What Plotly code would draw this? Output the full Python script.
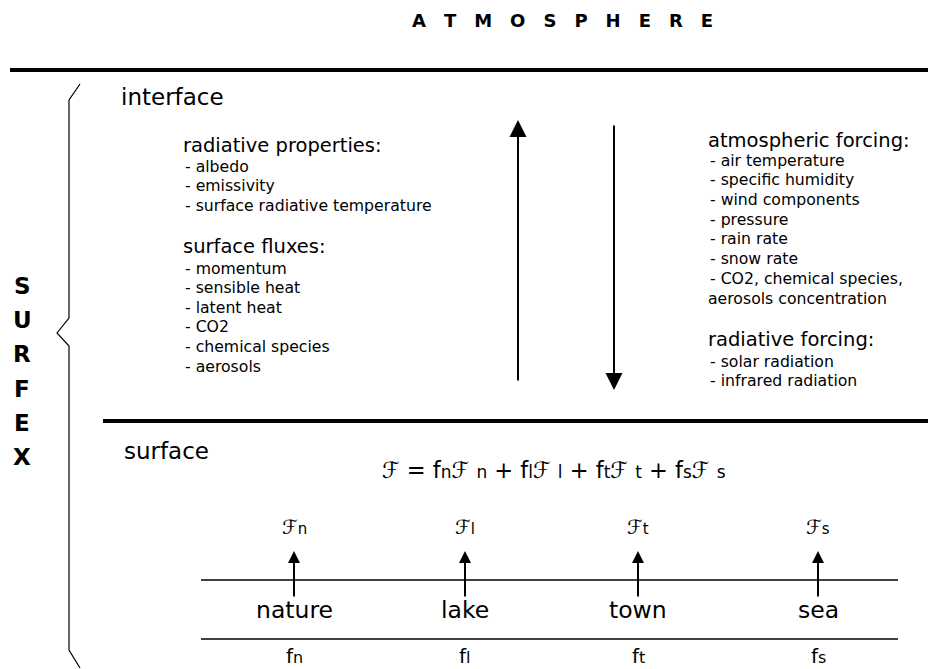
import plotly.graph_objects as go

# ---- content ----
title_text = "ATMOSPHERE"
side_text = "SURFEX"
interface_label = "interface"
surface_label = "surface"
rad_prop_header = "radiative properties:"
rad_prop_items = ["albedo", "emissivity", "surface radiative temperature"]
flux_header = "surface fluxes:"
flux_items = ["momentum", "sensible heat", "latent heat", "CO2", "chemical species", "aerosols"]
atm_header = "atmospheric forcing:"
atm_items = ["air temperature", "specific humidity", "wind components", "pressure",
             "rain rate", "snow rate", "CO2, chemical species,"]
atm_tail = "aerosols concentration"
radf_header = "radiative forcing:"
radf_items = ["solar radiation", "infrared radiation"]
tiles = ["nature", "lake", "town", "sea"]
tile_subs = ["n", "l", "t", "s"]

# ---- layout constants ----
W, H = 936, 669
OFF = 8  # page body margin offset
FONT = "DejaVu Sans"
tile_x = [294, 465, 638, 818]
F = "ℱ"
HEAD, ITEM = 19.5, 15.7

def small(s, px):
    return '<span style="font-size:%dpx">%s</span>' % (px, s)

fig = go.Figure()
ann = []
shapes = []

def txt(x, y, s, size, xanchor="left", bold=False, yanchor="middle"):
    ann.append(dict(x=x, y=y, xref="x", yref="y", text=("<b>%s</b>" % s) if bold else s,
                    showarrow=False, xanchor=xanchor, yanchor=yanchor,
                    font=dict(family=FONT, size=size, color="black")))

def arrow(x, y0, y1, width=2, size=1.4):
    ann.append(dict(x=x, y=y1, ax=x, ay=y0, xref="x", yref="y", axref="x", ayref="y",
                    text="", showarrow=True, arrowhead=2, arrowsize=size,
                    arrowwidth=width, arrowcolor="black", standoff=0, startstandoff=0))

def hline(x0, x1, y, w):
    shapes.append(dict(type="line", xref="x", yref="y", x0=x0, x1=x1, y0=y, y1=y,
                       line=dict(color="black", width=w)))

# title (letter spaced)
txt(562, 20, "\u2003".join(title_text), 18, xanchor="center", bold=True)
# main lines
hline(10, W + OFF, 70, 4)
hline(103, W + OFF, 421, 4)
# brace
shapes.append(dict(type="path", xref="x", yref="y",
                   path="M 80 84 L 69 100 L 69 318 L 57 333 L 69 346 L 69 650 L 80 668",
                   line=dict(color="black", width=1.2)))
# SURFEX
for i, ch in enumerate(side_text):
    txt(22, 286 + i * 34.2, ch, 23, xanchor="center", bold=True)

txt(119, 97, interface_label, 23)
txt(122, 451, surface_label, 23)

# left block
txt(181, 145, rad_prop_header, HEAD)
for i, s in enumerate(rad_prop_items):
    txt(183, 166 + i * 19.7, "- " + s, ITEM)
txt(181, 246, flux_header, HEAD)
for i, s in enumerate(flux_items):
    txt(183, 268 + i * 19.6, "- " + s, ITEM)

# big arrows
arrow(518, 382, 120, width=2, size=1.7)
arrow(614, 124, 390, width=2, size=1.7)

# right block
txt(706, 140, atm_header, HEAD)
for i, s in enumerate(atm_items):
    txt(708, 160 + i * 19.7, "- " + s, ITEM)
txt(706, 298, atm_tail, ITEM)
txt(706, 339, radf_header, HEAD)
for i, s in enumerate(radf_items):
    txt(708, 361 + i * 19.7, "- " + s, ITEM)

# formula
terms = ["f%s%s %s" % (small(s, 17), F, small(s, 17)) for s in tile_subs]
formula = F + " = " + " + ".join(terms)
txt(554, 470, formula, 22.5, xanchor="center")

# tiles
hline(201, 898, 580, 1.5)
hline(201, 898, 639, 1.5)
for x, name, s in zip(tile_x, tiles, tile_subs):
    arrow(x, 598, 551, width=2, size=1.2)
    txt(x, 527, F + small(s, 15), 20, xanchor="center")
    txt(x, 610, name, 23.5, xanchor="center")
    txt(x, 656, "f" + small(s, 16), 20, xanchor="center")

fig.update_layout(
    width=W, height=H, margin=dict(l=0, r=0, t=0, b=0),
    paper_bgcolor="white", plot_bgcolor="white",
    xaxis=dict(range=[OFF, W + OFF], visible=False, fixedrange=True),
    yaxis=dict(range=[H + OFF, OFF], visible=False, fixedrange=True),
    annotations=ann, shapes=shapes, showlegend=False,
)
fig.write_html("out.html")
